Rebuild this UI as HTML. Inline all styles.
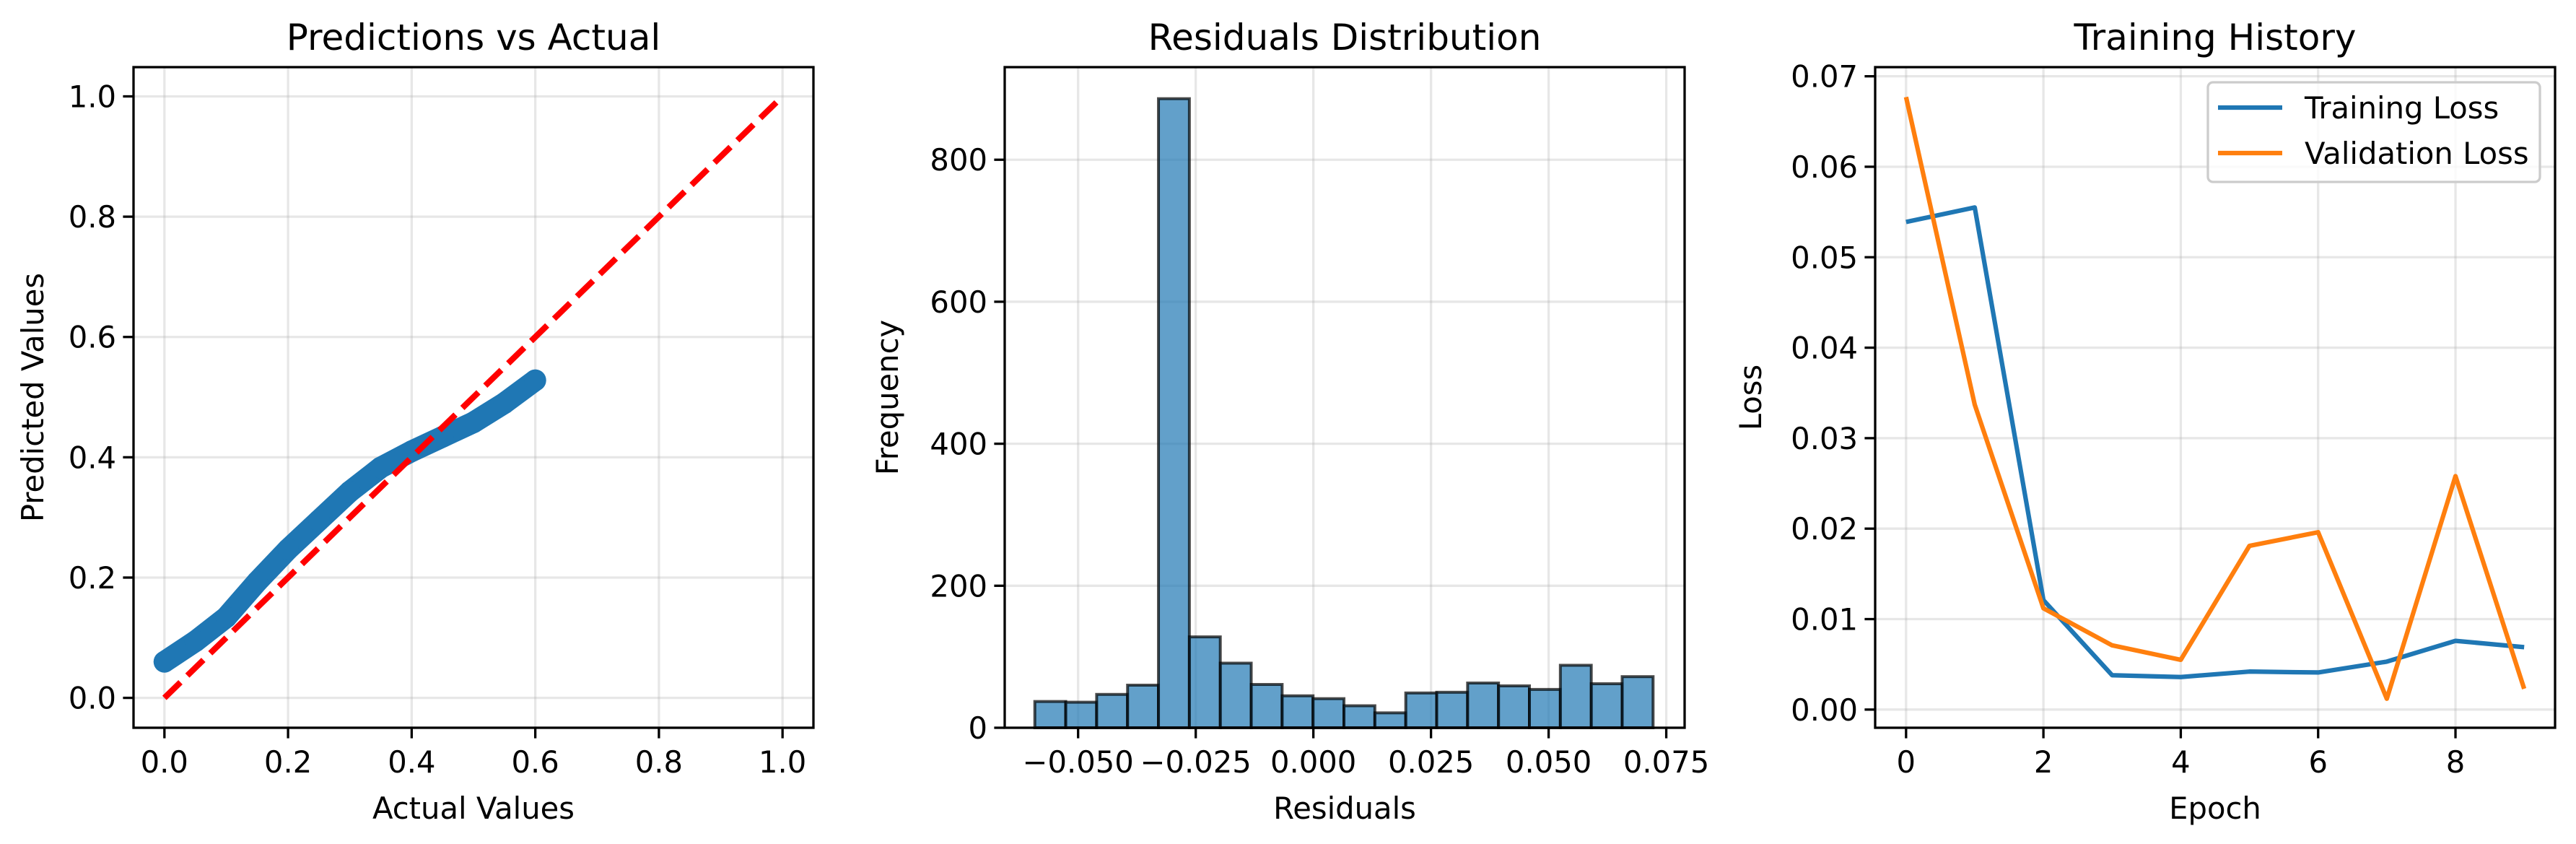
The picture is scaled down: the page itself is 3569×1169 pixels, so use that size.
<!DOCTYPE html>
<html><head><meta charset="utf-8"><style>
html,body{margin:0;padding:0;background:#fff;}
svg{display:block;font-family:"DejaVu Sans","Liberation Sans",sans-serif;}
</style></head><body>
<svg id="fig" width="3569" height="1169" viewBox="0 0 3569 1169" xmlns="http://www.w3.org/2000/svg"></svg>
<script>
// ---- Panel 1 data: Predictions vs Actual ----
const p1Actual = [0.0,0.05,0.1,0.15,0.2,0.25,0.3,0.35,0.4,0.45,0.5,0.55,0.6];
const p1Pred   = [0.060,0.094,0.134,0.193,0.247,0.295,0.343,0.383,0.410,0.434,0.458,0.490,0.528];
const p1Ticks  = [0.0,0.2,0.4,0.6,0.8,1.0];
const p1TickLabels = ["0.0","0.2","0.4","0.6","0.8","1.0"];
// ---- Panel 2 data: Residuals histogram ----
const histStart = -0.0592;
const histEnd = 0.0722;
const histCounts = [37,36,47,60,886,128,91,61,45,41,31,21,49,50,63,59,54,88,62,72];
const p2XTicks = [-0.05,-0.025,0,0.025,0.05,0.075];
const p2XTickLabels = ["\u22120.050","\u22120.025","0.000","0.025","0.050","0.075"];
const p2YTicks = [0,200,400,600,800];
// ---- Panel 3 data: Training history ----
const epochs = [0,1,2,3,4,5,6,7,8,9];
const trainLoss = [0.0539,0.0555,0.0121,0.0038,0.0036,0.0042,0.0041,0.0053,0.0076,0.0069];
const valLoss   = [0.0677,0.0337,0.0112,0.0071,0.0055,0.0181,0.0196,0.0012,0.0258,0.0023];
const p3XTicks = [0,2,4,6,8];
const p3YTicks = [0,0.01,0.02,0.03,0.04,0.05,0.06,0.07];
const p3YTickLabels = ["0.00","0.01","0.02","0.03","0.04","0.05","0.06","0.07"];

const NS="http://www.w3.org/2000/svg";
const svg=document.getElementById('fig');
function mk(tag,attrs,parent){const e=document.createElementNS(NS,tag);for(const k in attrs)e.setAttribute(k,attrs[k]);(parent||svg).appendChild(e);return e;}
function txt(s,attrs,parent){const e=mk('text',attrs,parent);e.textContent=s;return e;}

function axes(box,xr,yr){
  const sx=v=>box.l+(v-xr[0])/(xr[1]-xr[0])*(box.r-box.l);
  const sy=v=>box.b-(v-yr[0])/(yr[1]-yr[0])*(box.b-box.t);
  return {sx,sy};
}
function frame(g,box,xt,xl,yt,yl,sx,sy,title,xlab,ylab,ylabX){
  xt.forEach((v,i)=>{
    const x=sx(v);
    const gl=mk('line',{x1:x,x2:x,y1:box.t,y2:box.b,stroke:'#b0b0b0','stroke-opacity':0.3,'stroke-width':3.3},g);
    
    
    mk('line',{x1:x,x2:x,y1:box.b,y2:box.b+14.6,stroke:'#000','stroke-width':3.3},g);
    const t=txt(xl[i],{x:x,y:box.b+62,'font-size':41.7,'text-anchor':'middle'},g);
    
    
  });
  yt.forEach((v,i)=>{
    const y=sy(v);
    const gl=mk('line',{x1:box.l,x2:box.r,y1:y,y2:y,stroke:'#b0b0b0','stroke-opacity':0.3,'stroke-width':3.3},g);
    
    
    mk('line',{x1:box.l-14.6,x2:box.l,y1:y,y2:y,stroke:'#000','stroke-width':3.3},g);
    const t=txt(yl[i],{x:box.l-24,y:y+15,'font-size':41.7,'text-anchor':'end'},g);
    
    
  });
  const tt=txt(title,{x:(box.l+box.r)/2,y:69,'font-size':50,'text-anchor':'middle'},g);
  
  
  const xa=txt(xlab,{x:(box.l+box.r)/2,y:1134,'font-size':41.7,'text-anchor':'middle'},g);
  
  
  const ya=txt(ylab,{x:ylabX,y:(box.t+box.b)/2,'font-size':41.7,'text-anchor':'middle',transform:`rotate(-90 ${ylabX} ${(box.t+box.b)/2})`},g);
  
  
}
function spines(g,box){
  const s=mk('rect',{x:box.l,y:box.t,width:box.r-box.l,height:box.b-box.t,fill:'none',stroke:'#000','stroke-width':3.3},g);
  
  
}

// ---------- Panel 1 ----------
(function(){
  const box={l:185,r:1127,t:93,b:1008};
  const {sx,sy}=axes(box,[-0.05,1.05],[-0.0497,1.0486]);
  const g=mk('g',{});
  
  
  frame(g,box,p1Ticks,p1TickLabels,p1Ticks,p1TickLabels,sx,sy,'Predictions vs Actual','Actual Values','Predicted Values',60);
  const pts=p1Actual.map((a,i)=>sx(a)+','+sy(p1Pred[i])).join(' ');
  const band=mk('polyline',{points:pts,fill:'none',stroke:'#1f77b4','stroke-width':30,'stroke-linecap':'round','stroke-linejoin':'round'},g);
  
  
  p1Actual.forEach((a,i)=>{
    const c=mk('circle',{cx:sx(a),cy:sy(p1Pred[i]),r:15,fill:'#1f77b4'},g);
    
    
  });
  const d=mk('line',{x1:sx(0),y1:sy(0),x2:sx(1),y2:sy(1),stroke:'#ff0000','stroke-width':8.3,'stroke-dasharray':'31 13.3'},g);
  
  
  spines(g,box);
})();

// ---------- Panel 2 ----------
(function(){
  const box={l:1392,r:2334,t:93,b:1008};
  const {sx,sy}=axes(box,[-0.0656,0.0789],[0,930.4]);
  const g=mk('g',{});
  
  
  frame(g,box,p2XTicks,p2XTickLabels,p2YTicks,p2YTicks.map(String),sx,sy,'Residuals Distribution','Residuals','Frequency',1244);
  const w=(histEnd-histStart)/histCounts.length;
  histCounts.forEach((c,i)=>{
    const x0=sx(histStart+i*w), x1=sx(histStart+(i+1)*w);
    const r=mk('rect',{x:x0,y:sy(c),width:x1-x0,height:sy(0)-sy(c),fill:'#1f77b4','fill-opacity':0.7,stroke:'#000','stroke-opacity':0.7,'stroke-width':4},g);
    
    
  });
  spines(g,box);
})();

// ---------- Panel 3 ----------
(function(){
  const box={l:2598,r:3540,t:93,b:1008};
  const {sx,sy}=axes(box,[-0.45,9.45],[-0.00201,0.07101]);
  const g=mk('g',{});
  
  
  frame(g,box,p3XTicks,p3XTicks.map(String),p3YTicks,p3YTickLabels,sx,sy,'Training History','Epoch','Loss',2440);
  const tl=mk('polyline',{points:epochs.map((e,i)=>sx(e)+','+sy(trainLoss[i])).join(' '),fill:'none',stroke:'#1f77b4','stroke-width':6.25,'stroke-linejoin':'round'},g);
  
  
  const vl=mk('polyline',{points:epochs.map((e,i)=>sx(e)+','+sy(valLoss[i])).join(' '),fill:'none',stroke:'#ff7f0e','stroke-width':6.25,'stroke-linejoin':'round'},g);
  
  
  spines(g,box);
  const lg=mk('g',{},g);
  
  
  mk('rect',{x:3059,y:114,width:460,height:138,rx:7,fill:'#fff','fill-opacity':0.8,stroke:'#cccccc','stroke-width':3.3},lg);
  const e1=mk('g',{},lg);
  
  
  mk('line',{x1:3073,x2:3162,y1:149,y2:149,stroke:'#1f77b4','stroke-width':6.25},e1);
  txt('Training Loss',{x:3193,y:164,'font-size':41.7},e1);
  const e2=mk('g',{},lg);
  
  
  mk('line',{x1:3073,x2:3162,y1:212,y2:212,stroke:'#ff7f0e','stroke-width':6.25},e2);
  txt('Validation Loss',{x:3193,y:227,'font-size':41.7},e2);
})();
</script>
</body></html>
